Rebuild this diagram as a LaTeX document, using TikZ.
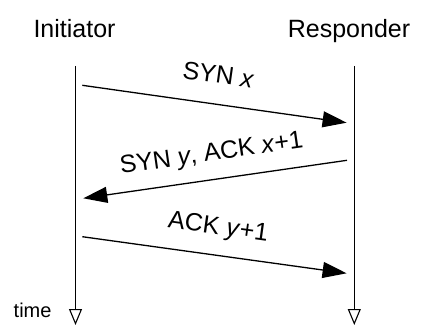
\documentclass[tikz,border=0pt]{standalone}
\usepackage{fontspec}
\setmainfont{Liberation Sans}
\usetikzlibrary{arrows.meta}

\begin{document}
\begin{tikzpicture}[x=1pt,y=-1pt,
  lifeline/.style={line width=1.2pt,-{Triangle[open,length=16pt,width=13pt,line width=1.1pt]}},
  msg/.style={line width=1.3pt,-{Triangle[length=24pt,width=16pt]}},
  party/.style={font=\fontsize{25}{30}\selectfont,inner sep=0pt,anchor=base},
  msglabel/.style={font=\fontsize{25}{30}\selectfont,inner sep=0pt,sloped},
  timelabel/.style={font=\fontsize{20}{24}\selectfont,inner sep=0pt,anchor=base west}]
  \useasboundingbox (0,0) rectangle (423,326);

  % participants
  \node[party] (init) at (74.5,37.3) {Initiator};
  \node[party] (resp) at (349,37.3) {Responder};

  % lifelines
  \coordinate (Ltop) at (75.5,66);
  \coordinate (Lbot) at (75.5,325);
  \coordinate (Rtop) at (354.3,66);
  \coordinate (Rbot) at (354.3,325);
  \draw[lifeline] (Ltop) -- (Lbot);
  \draw[lifeline] (Rtop) -- (Rbot);
  \node[timelabel] (time) at (13.5,317.3) {time};

  % message end points
  \coordinate (m1s) at (82.3,85.3);
  \coordinate (m1e) at (346.6,122.7);
  \coordinate (m2s) at (347,160.3);
  \coordinate (m2e) at (83.3,198.3);
  \coordinate (m3s) at (82.3,236.7);
  \coordinate (m3e) at (346.6,273.3);

  % handshake messages
  \draw[msg] (m1s) -- node[msglabel,above=20pt] (l1) {SYN \textit{x}} (m1e);
  \draw[msg] (m2s) -- node[msglabel,above=13pt] (l2) {SYN \textit{y}, ACK \textit{x}+1} (m2e);
  \draw[msg] (m3s) -- node[msglabel,above=15pt] (l3) {ACK \textit{y}+1} (m3e);
\end{tikzpicture}
\end{document}
